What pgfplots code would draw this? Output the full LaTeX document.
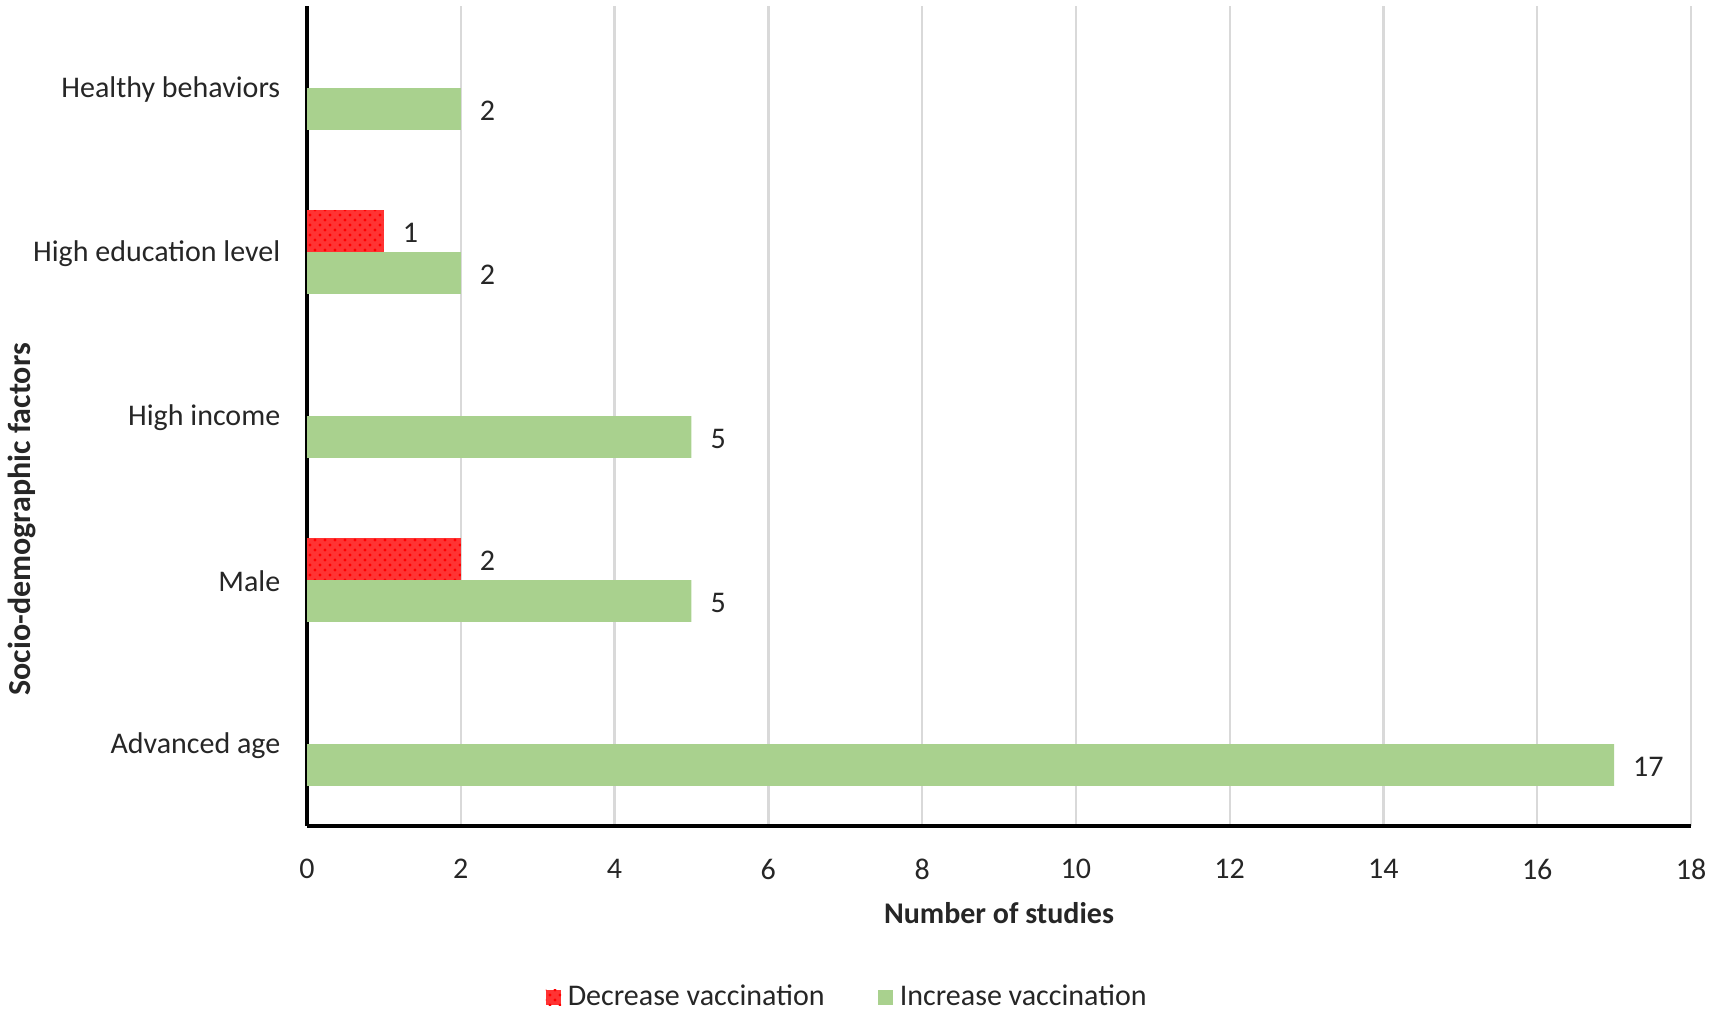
\documentclass[border=0pt]{standalone}
\usepackage{fontspec}
\setmainfont{Carlito}
\usepackage{pgfplots}
\pgfplotsset{compat=1.18}
\usetikzlibrary{patterns}
\definecolor{incgreen}{HTML}{A9D18E}
\definecolor{gridgray}{HTML}{D9D9D9}
\definecolor{txt}{HTML}{262626}
\begin{document}
\begin{tikzpicture}
\path[use as bounding box] (0,0) rectangle (513.9pt,304.5pt);
\begin{axis}[
  at={(92.1pt,56.7pt)}, anchor=south west,
  scale only axis, width=415.2pt, height=246pt,
  font=\fontsize{9}{11}\selectfont,
  /pgf/number format/assume math mode=true,
  xbar, bar width=0.255,
  xmin=0, xmax=18, ymin=-0.5, ymax=4.5,
  xtick={0,2,...,18}, ytick={0,1,2,3,4},
  yticklabels={Advanced age, Male, High income, High education level, Healthy behaviors},
  major tick length=0,
  axis x line*=bottom, axis y line*=left,
  axis line style={black, line width=1pt},
  xmajorgrids, grid style={gridgray, line width=0.7pt},
  xticklabel style={yshift=-6.3pt, text=txt},
  yticklabel style={xshift=-4.5pt, yshift=-0.4pt, text=txt},
  xlabel={\bfseries Number of studies},
  xlabel style={at={(axis description cs:0.5,-0.1057)}, anchor=center, text=txt},
  ylabel={\fontsize{9.6}{11}\selectfont\bfseries Socio-demographic factors},
  ylabel style={at={(axis description cs:-0.206,0.374)}, anchor=center, text=txt},
  nodes near coords,
  every node near coord/.append style={xshift=2.2pt, yshift=-0.5pt, text=txt, font=\fontsize{9}{11}\selectfont},
  legend style={at={(0.392,-0.209)}, anchor=center, draw=none, legend columns=2,
    /tikz/every even column/.append style={column sep=14pt}, font=\fontsize{9}{11}\selectfont, text=txt},
  legend image code/.code={\fill[#1] (0pt,-2.3pt) rectangle (4.6pt,2.3pt);},
  clip=false,
]
\addplot[fill=red!80, draw=none, bar shift=0.128,
  postaction={pattern=crosshatch dots, pattern color=red}]
  coordinates {(2,1) (1,3)};
\addlegendentry{Decrease vaccination}
\addplot[fill=incgreen, draw=none, bar shift=-0.128]
  coordinates {(17,0) (5,1) (5,2) (2,3) (2,4)};
\addlegendentry{Increase vaccination}
\end{axis}
\end{tikzpicture}
\end{document}
